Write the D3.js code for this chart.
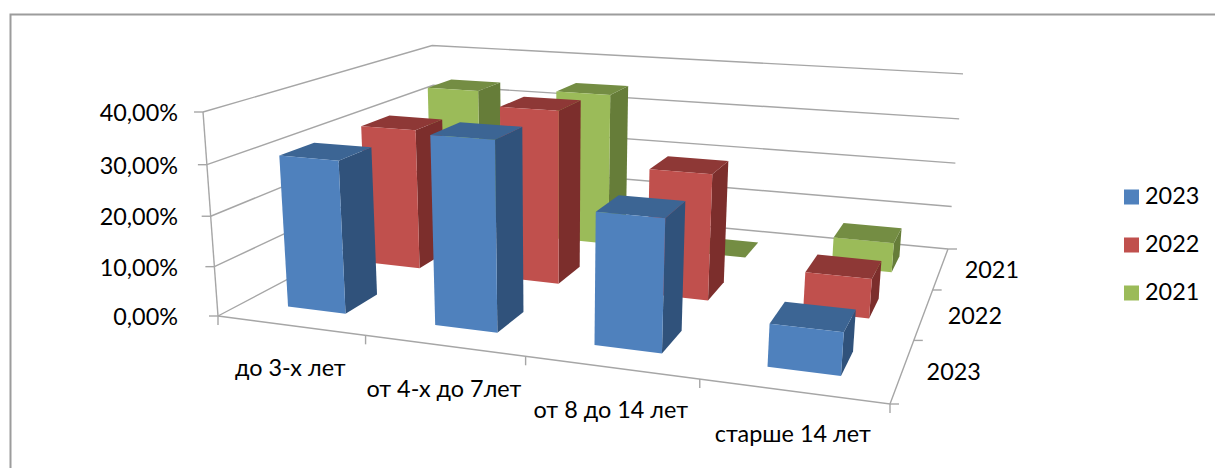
<!DOCTYPE html>
<html>
<head>
<meta charset="utf-8">
<script src="https://cdn.jsdelivr.net/npm/d3@7"></script>
<style>
  html, body { margin: 0; padding: 0; background: #fff; }
  text { font-family: Lato, "Open Sans", sans-serif; font-size: 23.4px; fill: #000; }
</style>
</head>
<body>
<div id="chart"></div>
<script>
// ============================
// Data
// ============================
const categories = ["до 3-х лет", "от 4-х до 7лет", "от 8 до 14 лет", "старше 14 лет"];
const seriesNames = ["2023", "2022", "2021"]; // front to back
const values2023 = [0.305, 0.368, 0.252, 0.08];
const values2022 = [0.303, 0.365, 0.26, 0.08];
const values2021 = [0.335, 0.345, 0, 0.065];
const valueTicks = [0, 0.1, 0.2, 0.3, 0.4];

const seriesValues = [values2023, values2022, values2021];
const frontColors = ["#4f81bd", "#c0504d", "#9bbb59"];
const sideColors = ["#30527b", "#7c2e2c", "#667d39"];
const topColors = ["#3c6594", "#8e3836", "#748d43"];

const width = 1215;
const height = 468;
const svg = d3.select("#chart").append("svg")
  .attr("width", width).attr("height", height)
  .style("display", "block");

// ============================
// Projection of the 3d box
// ============================
// u along categories, w from front to back, t up the wall, all 0..1
// floor corners in order: front left, front right, back right, back left
function boxProjection(p0, p1, p2, p3, vanish, topLeftY) {
  const dx1 = p1[0] - p2[0], dx2 = p3[0] - p2[0], sx = p0[0] - p1[0] + p2[0] - p3[0];
  const dy1 = p1[1] - p2[1], dy2 = p3[1] - p2[1], sy = p0[1] - p1[1] + p2[1] - p3[1];
  const den = dx1 * dy2 - dx2 * dy1;
  const g = (sx * dy2 - dx2 * sy) / den;
  const h = (dx1 * sy - sx * dy1) / den;
  const a = p1[0] - p0[0] + g * p1[0], b = p3[0] - p0[0] + h * p3[0];
  const d = p1[1] - p0[1] + g * p1[1], e = p3[1] - p0[1] + h * p3[1];
  // verticals all run to one vanishing point below the chart
  const i = (topLeftY - p0[1]) / (vanish[1] - topLeftY);
  return (u, w, t) => {
    const q = g * u + h * w + 1 + i * t;
    return [(a * u + b * w + p0[0] + i * t * vanish[0]) / q,
            (d * u + e * w + p0[1] + i * t * vanish[1]) / q];
  };
}

const box = boxProjection([218, 316], [890, 404], [948, 249], [436, 201], [552, 4865], 112);

const xBand = d3.scaleBand().domain(categories).range([0, 1]).paddingInner(0.6).paddingOuter(0.3);
const zBand = d3.scaleBand().domain(seriesNames).range([0, 1]).paddingInner(0.6).paddingOuter(0.3);
const yScale = d3.scaleLinear().domain([0, 0.4]).range([0, 1]);

const project = (u, w, value) => box(u, w, yScale(value));

const line = d3.line();
const fmt = d3.formatLocale({ decimal: ",", thousands: " ", grouping: [3], currency: ["", ""] }).format(".2%");
const axisColor = "#a6a6a6";

// ============================
// Frame and walls
// ============================
svg.append("path")
  .attr("d", "M10.5,468V14.5H1215")
  .attr("fill", "none").attr("stroke", "#9c9c9c").attr("stroke-width", 2);

const walls = svg.append("g").attr("fill", "none").attr("stroke", axisColor).attr("stroke-width", 1.4);

valueTicks.forEach(v => {
  walls.append("path").attr("d", line([project(0, 0, v), project(0, 1, v), project(1, 1, v)]));
  const p = project(0, 0, v);
  walls.append("path").attr("d", line([[p[0] - 9, p[1]], p]));
});
walls.append("path").attr("d", line([project(0, 0, 0), project(0, 0, 0.4)]));
walls.append("path").attr("d", line([project(0, 0, 0), project(1, 0, 0), project(1, 1, 0)]));

// category and series ticks sit on the band edges of the floor
d3.range(categories.length + 1).forEach(i => {
  const p = project(i / categories.length, 0, 0);
  walls.append("path").attr("d", line([p, [p[0], p[1] + 9]]));
});
d3.range(seriesNames.length + 1).forEach(i => {
  const p = project(1, i / seriesNames.length, 0);
  walls.append("path").attr("d", line([p, [p[0] + 9, p[1]]]));
});

// ============================
// Bars, back row first
// ============================
const bars = svg.append("g");
d3.range(seriesNames.length - 1, -1, -1).forEach(s => {
  const w0 = zBand(seriesNames[s]), w1 = w0 + zBand.bandwidth();
  categories.forEach((cat, i) => {
    const u0 = xBand(cat), u1 = u0 + xBand.bandwidth(), v = seriesValues[s][i];
    const side = [project(u1, w0, 0), project(u1, w1, 0), project(u1, w1, v), project(u1, w0, v)];
    const top = [project(u0, w0, v), project(u1, w0, v), project(u1, w1, v), project(u0, w1, v)];
    const front = [project(u0, w0, 0), project(u1, w0, 0), project(u1, w0, v), project(u0, w0, v)];
    bars.append("path").attr("d", line(side) + "Z").attr("fill", sideColors[s]);
    bars.append("path").attr("d", line(top) + "Z").attr("fill", topColors[s]);
    bars.append("path").attr("d", line(front) + "Z").attr("fill", frontColors[s]);
  });
});

// ============================
// Labels
// ============================
valueTicks.forEach(v => {
  const p = project(0, 0, v);
  svg.append("text").attr("x", 178).attr("y", p[1] + 3)
    .attr("text-anchor", "end").attr("dominant-baseline", "middle").text(fmt(v));
});
categories.forEach((cat, i) => {
  const p = project((i + 0.5) / categories.length, 0, 0);
  svg.append("text").attr("x", p[0]).attr("y", p[1] + 45)
    .attr("text-anchor", "middle").attr("dominant-baseline", "middle").text(cat);
});
seriesNames.forEach((name, i) => {
  const p = project(1, (i + 0.5) / seriesNames.length, 0);
  svg.append("text").attr("x", p[0] + 24).attr("y", p[1] + 4)
    .attr("dominant-baseline", "middle").text(name);
});

// legend
seriesNames.forEach((name, i) => {
  const y = 197 + i * 48;
  svg.append("rect").attr("x", 1124).attr("y", y - 7.5).attr("width", 15).attr("height", 15).attr("fill", frontColors[i]);
  svg.append("text").attr("x", 1145).attr("y", y + 1.5).attr("dominant-baseline", "middle").text(name);
});
</script>
</body>
</html>
